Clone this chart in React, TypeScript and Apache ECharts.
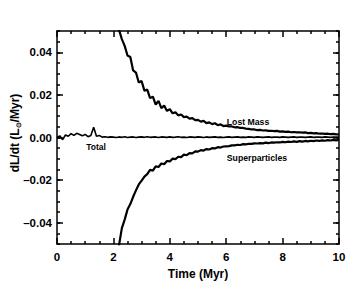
import React, { useEffect, useRef } from "react";
import * as echarts from "echarts";

const xTicks = [0, 2, 4, 6, 8, 10];
const yTickLabels = [-0.04, -0.02, 0, 0.02, 0.04];

const lostStart = 2.0;
const lostMass = [
  0.0590, 0.0540, 0.0505, 0.0462, 0.0430, 0.0385, 0.0378, 0.0315, 0.0305, 0.0258,
  0.0265, 0.0220, 0.0225, 0.0185, 0.0192, 0.0155, 0.0172, 0.0138, 0.0150, 0.0125,
  0.0133, 0.0114, 0.0119, 0.0104, 0.0108, 0.0096, 0.0098, 0.0089, 0.0091, 0.0082,
  0.0083, 0.0075, 0.0078, 0.0068, 0.0071, 0.0063, 0.0067, 0.0058, 0.0062, 0.0054,
  0.0056, 0.0052, 0.0052, 0.0048, 0.0049, 0.0045, 0.0045, 0.0042, 0.0041, 0.0038,
  0.0038, 0.0035, 0.0036, 0.0033, 0.0034, 0.0031, 0.0032, 0.0030, 0.0031, 0.0028,
  0.0029, 0.0027, 0.0028, 0.0025, 0.0026, 0.0024, 0.0025, 0.0023, 0.0024, 0.0021,
  0.0022, 0.0020, 0.0021, 0.0018, 0.0019, 0.0017, 0.0018, 0.0016, 0.0017, 0.0015,
  0.0015,
];

const superStart = 2.0;
const superparticles = [
  -0.0620, -0.0555, -0.0505, -0.0425, -0.0385, -0.0338, -0.0312, -0.0278, -0.0248, -0.0220,
  -0.0202, -0.0183, -0.0172, -0.0152, -0.0155, -0.0135, -0.0138, -0.0122, -0.0125, -0.0110,
  -0.0112, -0.0099, -0.0101, -0.0090, -0.0092, -0.0080, -0.0083, -0.0073, -0.0074, -0.0065,
  -0.0066, -0.0059, -0.0061, -0.0054, -0.0056, -0.0050, -0.0051, -0.0045, -0.0047, -0.0042,
  -0.0041, -0.0040, -0.0037, -0.0037, -0.0034, -0.0035, -0.0031, -0.0032, -0.0029, -0.0030,
  -0.0027, -0.0028, -0.0026, -0.0027, -0.0024, -0.0026, -0.0023, -0.0024, -0.0022, -0.0023,
  -0.0020, -0.0022, -0.0019, -0.0021, -0.0018, -0.0020, -0.0017, -0.0019, -0.0016, -0.0018,
  -0.0015, -0.0017, -0.0014, -0.0016, -0.0013, -0.0015, -0.0012, -0.0014, -0.0011, -0.0013,
  -0.0011,
];

const totalStart = 0.0;
const total = [
  0.0000, 0.0008, -0.0010, 0.0012, 0.0006, 0.0018, 0.0010, 0.0020, 0.0014, 0.0008,
  0.0015, 0.0004, 0.0010, 0.0048, 0.0006, 0.0010, 0.0002, 0.0004, 0.0001, 0.0003,
  0.0002, 0.0000, 0.0003, 0.0001, 0.0004, 0.0000, 0.0002, 0.0003, 0.0000, 0.0002,
  0.0003, 0.0001, 0.0004, 0.0001, 0.0002, 0.0003, 0.0000, 0.0003, 0.0002, 0.0001,
  0.0003, 0.0001, 0.0002, 0.0004, 0.0001, 0.0002, 0.0000, 0.0003, 0.0002, 0.0001,
  0.0003, 0.0002, 0.0000, 0.0003, 0.0001, 0.0002, 0.0003, 0.0001, 0.0002, 0.0000,
  0.0002, 0.0003, 0.0001, 0.0002, 0.0003, 0.0001, 0.0002, 0.0001, 0.0003, 0.0002,
  0.0001, 0.0003, 0.0002, 0.0001, 0.0002, 0.0003, 0.0001, 0.0002, 0.0002, 0.0001,
  0.0003, 0.0002, 0.0001, 0.0002, 0.0003, 0.0001, 0.0002, 0.0002, 0.0001, 0.0002,
  0.0003, 0.0001, 0.0002, 0.0002, 0.0001, 0.0003, 0.0002, 0.0001, 0.0002, 0.0002,
  0.0002,
];

const step = 0.1;
const toPairs = (start: number, vals: number[]) =>
  vals.map((v, i) => [Math.round((start + i * step) * 100) / 100, v]);

const FONT = "Liberation Sans, Arial, Helvetica, sans-serif";
const BLACK = "#000";

export default function App() {
  const ref = useRef<HTMLDivElement>(null);
  useEffect(() => {
    if (!ref.current) return;
    const chart = echarts.init(ref.current, null, { renderer: "svg" });
    const lineStyle = { color: BLACK, width: 1.5 };
    const fmtY = (v: number) => {
      const ok = yTickLabels.some((t) => Math.abs(t - v) < 1e-9);
      if (!ok) return "";
      const s = Math.abs(v).toFixed(2);
      return v < -1e-9 ? "\u2013" + s : s;
    };
    const baseY = {
      type: "value",
      min: -0.05,
      max: 0.05,
      splitLine: { show: false },
    };
    chart.setOption({
      animation: false,
      grid: { left: 57, right: 17, top: 31, bottom: 37, containLabel: false },
      xAxis: [
        {
          type: "value",
          min: 0,
          max: 10,
          interval: 2,
          position: "bottom",
          name: "Time (Myr)",
          nameLocation: "middle",
          nameGap: 21,
          nameTextStyle: { fontFamily: FONT, fontWeight: "bold", fontSize: 12, color: BLACK },
          axisLine: { show: true, onZero: false, lineStyle },
          axisTick: { show: true, inside: true, length: 6, lineStyle },
          minorTick: { show: true, splitNumber: 4, length: 3, lineStyle },
          axisLabel: {
            show: true,
            margin: 7,
            fontFamily: FONT,
            fontWeight: "bold",
            fontSize: 11.5,
            color: BLACK,
            formatter: (v: number) => (xTicks.includes(v) ? String(v) : ""),
          },
          splitLine: { show: false },
        },
        {
          type: "value",
          min: 0,
          max: 10,
          interval: 2,
          position: "top",
          axisLine: { show: true, onZero: false, lineStyle },
          axisTick: { show: true, inside: true, length: 6, lineStyle },
          minorTick: { show: true, splitNumber: 4, length: 3, lineStyle },
          axisLabel: { show: false },
          splitLine: { show: false },
        },
      ],
      yAxis: [
        {
          ...baseY,
          position: "left",
          interval: 0.005,
          axisLine: { show: true, onZero: false, lineStyle },
          axisTick: { show: true, inside: true, length: 3, lineStyle },
          axisLabel: {
            show: true,
            margin: 5,
            fontFamily: FONT,
            fontWeight: "bold",
            fontSize: 11.5,
            color: BLACK,
            formatter: fmtY,
          },
        },
        {
          ...baseY,
          position: "left",
          axisLine: { show: false, onZero: false },
          axisTick: { show: true, inside: true, length: 6, lineStyle, customValues: yTickLabels },
          axisLabel: { show: false },
        },
        {
          ...baseY,
          position: "right",
          interval: 0.005,
          axisLine: { show: true, onZero: false, lineStyle },
          axisTick: { show: true, inside: true, length: 3, lineStyle },
          axisLabel: { show: false },
        },
        {
          ...baseY,
          position: "right",
          axisLine: { show: false, onZero: false },
          axisTick: { show: true, inside: true, length: 6, lineStyle, customValues: yTickLabels },
          axisLabel: { show: false },
        },
      ],
      series: [
        {
          name: "Lost Mass",
          type: "line",
          data: toPairs(lostStart, lostMass),
          showSymbol: false,
          clip: true,
          lineStyle: { color: BLACK, width: 2.2 },
        },
        {
          name: "Superparticles",
          type: "line",
          data: toPairs(superStart, superparticles),
          showSymbol: false,
          clip: true,
          lineStyle: { color: BLACK, width: 2.2 },
        },
        {
          name: "Total",
          type: "line",
          data: toPairs(totalStart, total),
          showSymbol: false,
          clip: true,
          lineStyle: { color: BLACK, width: 1.6 },
        },
      ],
      graphic: [
        {
          type: "text",
          x: 15,
          y: 133,
          rotation: Math.PI / 2,
          style: {
            text: "dL/dt (L{s|\u2299}/Myr)",
            fontFamily: FONT,
            fontWeight: "bold",
            fontSize: 12,
            fill: BLACK,
            align: "center",
            verticalAlign: "middle",
            rich: {
              s: { fontFamily: FONT, fontWeight: "bold", fontSize: 7, fill: BLACK, padding: [0, 0, -6, 0] },
            },
          },
        },
        {
          type: "text",
          x: 248,
          y: 121.7,
          style: {
            text: "Lost Mass",
            fontFamily: FONT,
            fontWeight: "bold",
            fontSize: 8.7,
            fill: BLACK,
            align: "center",
            verticalAlign: "middle",
          },
        },
        {
          type: "text",
          x: 257,
          y: 158.3,
          style: {
            text: "Superparticles",
            fontFamily: FONT,
            fontWeight: "bold",
            fontSize: 8.7,
            fill: BLACK,
            align: "center",
            verticalAlign: "middle",
          },
        },
        {
          type: "text",
          x: 96,
          y: 146.7,
          style: {
            text: "Total",
            fontFamily: FONT,
            fontWeight: "bold",
            fontSize: 8.5,
            fill: BLACK,
            align: "center",
            verticalAlign: "middle",
          },
        },
      ],
    });
    return () => chart.dispose();
  }, []);
  return (
    <div
      ref={ref}
      style={{ position: "fixed", left: 0, top: 0, width: 356, height: 285, background: "#fff" }}
    />
  );
}
